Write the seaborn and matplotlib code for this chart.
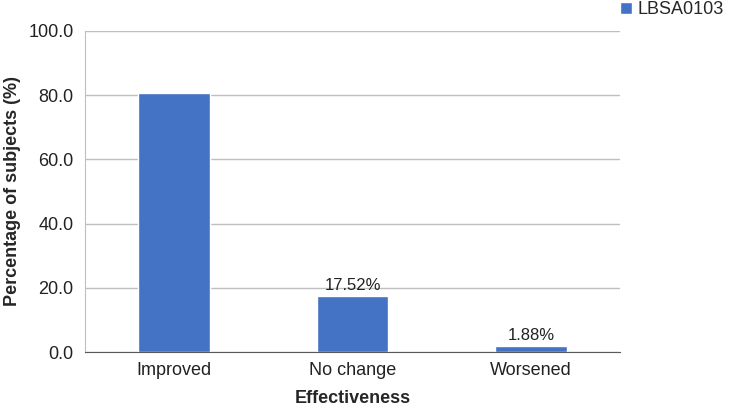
import matplotlib
matplotlib.use("Agg")
import matplotlib.pyplot as plt
import pandas as pd
import seaborn as sns

categories = ["Improved", "No change", "Worsened"]
percent = [80.60, 17.52, 1.88]
bar_labels = ["", "17.52%", "1.88%"]
series_name = "LBSA0103"

df = pd.DataFrame({"Effectiveness": categories, "Percent": percent, "Group": series_name})

sns.set_style("white")
plt.rcParams['font.family'] = ['Liberation Sans', 'DejaVu Sans']

fig = plt.figure(figsize=(7.5, 4.07), dpi=100)
ax = fig.add_axes([0.113, 0.135, 0.714, 0.789])

sns.barplot(data=df, x="Effectiveness", y="Percent", hue="Group", palette=["#4472C4"],
            width=0.4, saturation=1, ax=ax)

ax.bar_label(ax.containers[0], labels=bar_labels, fontsize=12, padding=2, color="#222222")

ax.set_ylim(0, 100)
ax.set_xlim(-0.5, 2.5)
ax.set_yticks([0, 20, 40, 60, 80, 100])
ax.set_yticklabels([f"{v:.1f}" for v in [0, 20, 40, 60, 80, 100]])
ax.yaxis.grid(True, color="#BFBFBF", linewidth=1)
ax.set_axisbelow(True)
ax.tick_params(axis="y", length=5, color="#BFBFBF", labelsize=13, labelcolor="#222222", pad=3)
ax.tick_params(axis="x", length=0, labelsize=13, labelcolor="#222222", pad=7)

for s in ["top", "right"]:
    ax.spines[s].set_visible(False)
ax.spines["left"].set_color("#BFBFBF")
ax.spines["bottom"].set_color("#595959")

ax.set_xlabel("Effectiveness", fontsize=13, fontweight="bold", labelpad=8)
ax.set_ylabel("Percentage of subjects (%)", fontsize=13, fontweight="bold", labelpad=5)

ax.legend(loc="upper left", bbox_to_anchor=(0.826, 1.0), bbox_transform=fig.transFigure,
          frameon=False, fontsize=13, handlelength=0.65, handleheight=0.65, handletextpad=0.3,
          borderaxespad=0, borderpad=0.05)

fig.savefig("out.png", dpi=100)
